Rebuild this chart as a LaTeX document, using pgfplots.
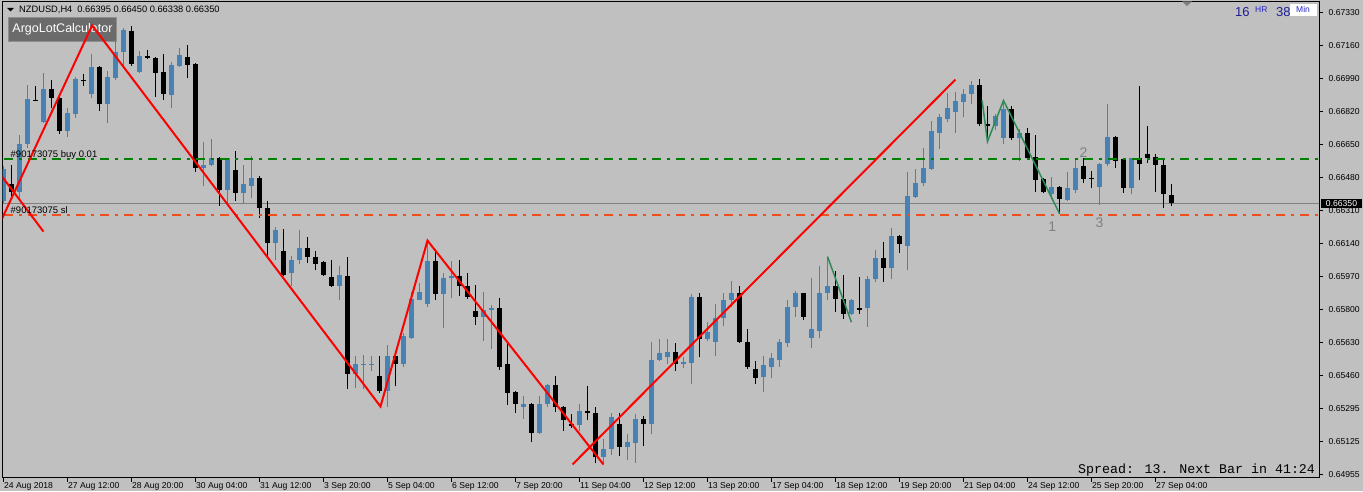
\documentclass[border=0pt]{standalone}
\usepackage{pgfplots}
\pgfplotsset{compat=1.18}
\usepackage{pgfplotstable}
\usepackage{fontspec}
\setmainfont{Liberation Sans}
\newfontfamily\monofont{Liberation Mono}
\pgfdeclarelayer{background}
\pgfsetlayers{background,main}
\definecolor{bg}{HTML}{C0C0C0}
\definecolor{bull}{HTML}{4682B4}
\definecolor{ordgreen}{RGB}{0,128,0}
\definecolor{ordsl}{RGB}{240,80,30}
\definecolor{bidgray}{HTML}{808080}
\definecolor{zzgreen}{HTML}{2E8B57}
\definecolor{btn}{HTML}{6B6B6B}
\definecolor{btnedge}{HTML}{8E8E8E}
\definecolor{navytxt}{HTML}{1E1E96}
\definecolor{bluetxt}{HTML}{2828C8}

\pgfplotstableread{
k o h l c
0 0.66365 0.66540 0.66349 0.66529
2 0.66411 0.66704 0.66365 0.66658
3 0.66658 0.66961 0.66637 0.66889
5 0.66771 0.67023 0.66766 0.66936
8 0.66720 0.66843 0.66694 0.66817
9 0.66812 0.67002 0.66791 0.66992
11 0.66910 0.67120 0.66894 0.67049
13 0.66863 0.67033 0.66761 0.67002
14 0.66997 0.67192 0.66982 0.67131
15 0.67131 0.67254 0.67059 0.67244
17 0.67028 0.67136 0.67023 0.67110
21 0.66905 0.67079 0.66843 0.67064
22 0.67059 0.67151 0.67049 0.67115
25 0.66534 0.66668 0.66442 0.66550
26 0.66545 0.66683 0.66540 0.66581
28 0.66421 0.66586 0.66344 0.66581
30 0.66401 0.66545 0.66349 0.66452
31 0.66442 0.66596 0.66380 0.66483
34 0.66144 0.66231 0.66061 0.66211
36 0.65990 0.66082 0.65928 0.66061
37 0.66061 0.66211 0.66036 0.66123
42 0.65928 0.66026 0.65856 0.65984
44 0.65475 0.65563 0.65403 0.65522
45 0.65517 0.65573 0.65398 0.65522
46 0.65517 0.65568 0.65486 0.65522
48 0.65388 0.65624 0.65301 0.65568
50 0.65527 0.65686 0.65511 0.65666
51 0.65660 0.65897 0.65655 0.65861
52 0.65856 0.65943 0.65851 0.65897
53 0.65835 0.66164 0.65815 0.66056
55 0.65882 0.65990 0.65712 0.65964
56 0.65964 0.66056 0.65866 0.65979
60 0.65768 0.65897 0.65645 0.65804
61 0.65804 0.65830 0.65604 0.65810
65 0.65301 0.65362 0.65244 0.65321
67 0.65172 0.65362 0.65167 0.65321
68 0.65321 0.65424 0.65301 0.65414
72 0.65213 0.65321 0.65182 0.65285
75 0.65044 0.65141 0.65008 0.65090
76 0.65090 0.65270 0.65059 0.65254
78 0.65100 0.65167 0.65033 0.65121
79 0.65116 0.65265 0.65018 0.65244
81 0.65218 0.65635 0.65167 0.65547
82 0.65547 0.65655 0.65542 0.65583
83 0.65558 0.65655 0.65527 0.65588
85 0.65527 0.65558 0.65506 0.65537
86 0.65532 0.65882 0.65424 0.65871
88 0.65655 0.65738 0.65645 0.65691
89 0.65640 0.65835 0.65568 0.65763
90 0.65763 0.65892 0.65722 0.65856
91 0.65856 0.65953 0.65815 0.65892
95 0.65460 0.65563 0.65378 0.65517
96 0.65511 0.65583 0.65455 0.65553
97 0.65547 0.65655 0.65511 0.65635
98 0.65630 0.65851 0.65614 0.65815
99 0.65815 0.65902 0.65768 0.65887
101 0.65660 0.65969 0.65609 0.65702
102 0.65696 0.66026 0.65660 0.65892
103 0.65887 0.66072 0.65856 0.65923
106 0.65784 0.65861 0.65774 0.65856
108 0.65810 0.65979 0.65717 0.65959
109 0.65959 0.66108 0.65948 0.66067
111 0.66020 0.66226 0.65959 0.66185
113 0.66133 0.66509 0.66010 0.66390
114 0.66385 0.66529 0.66380 0.66457
115 0.66457 0.66637 0.66442 0.66534
116 0.66529 0.66776 0.66524 0.66720
117 0.66714 0.66812 0.66632 0.66792
118 0.66786 0.66920 0.66771 0.66843
119 0.66822 0.66925 0.66714 0.66874
120 0.66869 0.66936 0.66792 0.66915
121 0.66915 0.66977 0.66863 0.66961
124 0.66750 0.66812 0.66725 0.66797
125 0.66684 0.66874 0.66658 0.66833
127 0.66684 0.66735 0.66570 0.66714
131 0.66396 0.66488 0.66375 0.66432
133 0.66370 0.66509 0.66365 0.66427
134 0.66421 0.66586 0.66401 0.66534
137 0.66432 0.66560 0.66344 0.66555
138 0.66555 0.66863 0.66540 0.66689
141 0.66427 0.66586 0.66396 0.66581
}\bulltab

\pgfplotstableread{
k o h l c
1 0.66452 0.66550 0.66390 0.66411
4 0.66884 0.66956 0.66874 0.66879
6 0.66936 0.66982 0.66838 0.66894
7 0.66894 0.66896 0.66709 0.66720
10 0.66987 0.67013 0.66956 0.66977
12 0.67049 0.67054 0.66827 0.66863
16 0.67234 0.67264 0.67059 0.67069
18 0.67110 0.67141 0.67090 0.67100
19 0.67100 0.67105 0.66899 0.67023
20 0.67028 0.67120 0.66884 0.66910
23 0.67105 0.67162 0.66997 0.67064
24 0.67069 0.67074 0.66514 0.66534
27 0.66581 0.66591 0.66339 0.66421
29 0.66524 0.66617 0.66365 0.66406
32 0.66483 0.66493 0.66277 0.66324
33 0.66329 0.66365 0.66072 0.66144
35 0.66103 0.66216 0.65979 0.65984
38 0.66123 0.66175 0.66046 0.66072
39 0.66072 0.66103 0.66010 0.66041
40 0.66051 0.66056 0.65979 0.65984
41 0.65974 0.66061 0.65918 0.65928
43 0.65979 0.66072 0.65398 0.65475
47 0.65465 0.65568 0.65373 0.65388
49 0.65568 0.65573 0.65409 0.65527
54 0.66056 0.66113 0.65856 0.65882
57 0.65979 0.66061 0.65876 0.65928
58 0.65928 0.65990 0.65861 0.65871
59 0.65799 0.65933 0.65727 0.65768
62 0.65810 0.65866 0.65496 0.65511
63 0.65522 0.65635 0.65316 0.65373
64 0.65378 0.65388 0.65275 0.65321
66 0.65321 0.65326 0.65121 0.65172
69 0.65419 0.65465 0.65280 0.65301
70 0.65301 0.65306 0.65182 0.65239
71 0.65218 0.65265 0.65193 0.65208
73 0.65285 0.65409 0.65234 0.65270
74 0.65270 0.65301 0.65013 0.65044
77 0.65218 0.65270 0.65049 0.65100
80 0.65244 0.65259 0.65105 0.65218
84 0.65588 0.65630 0.65491 0.65527
87 0.65871 0.65892 0.65558 0.65655
92 0.65892 0.65928 0.65630 0.65640
93 0.65640 0.65702 0.65501 0.65511
94 0.65501 0.65542 0.65424 0.65455
100 0.65887 0.65892 0.65753 0.65768
104 0.65923 0.66000 0.65794 0.65861
105 0.65861 0.65984 0.65758 0.65779
107 0.65810 0.65974 0.65784 0.65804
110 0.66067 0.66154 0.65948 0.66020
112 0.66185 0.66190 0.66097 0.66139
122 0.66961 0.66992 0.66750 0.66756
123 0.66756 0.66853 0.66663 0.66750
126 0.66833 0.66853 0.66678 0.66684
128 0.66714 0.66740 0.66581 0.66586
129 0.66591 0.66704 0.66411 0.66468
130 0.66473 0.66483 0.66401 0.66411
132 0.66432 0.66437 0.66298 0.66375
135 0.66540 0.66586 0.66457 0.66478
136 0.66483 0.66519 0.66427 0.66478
139 0.66689 0.66699 0.66534 0.66570
140 0.66576 0.66581 0.66406 0.66427
142 0.66586 0.66956 0.66468 0.66555
143 0.66606 0.66750 0.66560 0.66586
144 0.66591 0.66606 0.66411 0.66550
145 0.66550 0.66576 0.66329 0.66396
146 0.66395 0.66450 0.66338 0.66350
}\beartab

\pgfplotsset{candle/.style={only marks, mark=*, mark size=0pt, mark options={draw=none, fill=none}, forget plot}}

\begin{document}
\begin{tikzpicture}[x=1pt,y=1pt]
\begin{axis}[
  at={(0,0)}, anchor=south west,
  scale only axis, width=1317pt, height=476pt,
  xmin=-0.125, xmax=164.5, ymin=0.649409, ymax=0.673881,
  axis line style={black, line width=1pt},
  tick style={black, line width=1pt},
  tick align=outside, major tick length=4pt,
  xtick pos=left, ytick pos=right, yticklabel pos=right,
  scaled y ticks=false,
  xtick={0,8,...,144},
  xticklabels={24 Aug 2018, 27 Aug 12:00, 28 Aug 20:00, 30 Aug 04:00, 31 Aug 12:00, 3 Sep 20:00, 5 Sep 04:00, 6 Sep 12:00, 7 Sep 20:00, 11 Sep 04:00, 12 Sep 12:00, 13 Sep 20:00, 17 Sep 04:00, 18 Sep 12:00, 19 Sep 20:00, 21 Sep 04:00, 24 Sep 12:00, 25 Sep 20:00, 27 Sep 04:00},
  ytick={0.673300,0.671604,0.669907,0.668211,0.666514,0.664818,0.663121,0.661425,0.659728,0.658032,0.656335,0.654639,0.652942,0.651246,0.649549},
  yticklabels={0.67330,0.67160,0.66990,0.66820,0.66650,0.66480,0.66310,0.66140,0.65970,0.65800,0.65630,0.65460,0.65295,0.65125,0.64955},
  ticklabel style={font=\fontsize{8.6}{10}\selectfont, text=black},
  xticklabel style={anchor=north west, inner sep=0pt, xshift=0.5pt, yshift=-1pt},
  yticklabel style={anchor=west, inner sep=0pt, xshift=5pt},
  clip=true,
]
\coordinate (SW) at (rel axis cs:0,0);
% bid line
\addplot[color=bidgray, line width=1pt, forget plot] coordinates {(-0.125,0.66350) (164.5,0.66350)};
% bull wicks and bodies
\addplot[candle, error bars/.cd, y dir=plus, y explicit, error mark=none, error bar style={draw=bull, line width=1pt, solid}]
  table[x=k, y=l, y error plus expr=\thisrow{h}-\thisrow{l}] {\bulltab};
\addplot[candle, error bars/.cd, y dir=plus, y explicit, error mark=none, error bar style={draw=bull, line width=5pt, solid}]
  table[x=k, y=o, y error plus expr=\thisrow{c}-\thisrow{o}] {\bulltab};
% bear wicks and bodies
\addplot[candle, error bars/.cd, y dir=plus, y explicit, error mark=none, error bar style={draw=black, line width=1pt, solid}]
  table[x=k, y=l, y error plus expr=\thisrow{h}-\thisrow{l}] {\beartab};
\addplot[candle, error bars/.cd, y dir=plus, y explicit, error mark=none, error bar style={draw=black, line width=5pt, solid}]
  table[x=k, y=c, y error plus expr=\thisrow{o}-\thisrow{c}] {\beartab};
% order lines
\addplot[color=ordgreen, line width=2pt, dash pattern=on 9pt off 6pt on 3pt off 6pt, forget plot] coordinates {(0,0.66576) (164.5,0.66576)};
\addplot[color=ordsl, line width=2pt, dash pattern=on 9pt off 6pt on 3pt off 6pt, forget plot] coordinates {(0,0.66288) (164.5,0.66288)};
% zigzag lines
\addplot[color=red, line width=2pt, forget plot] coordinates {(-0.25,0.66492) (5,0.66205)};
\addplot[color=red, line width=2pt, forget plot] coordinates {(-0.25,0.66266) (11.08,0.67265) (47.125,0.65306) (53,0.66159) (75,0.65008)};
\addplot[color=red, line width=2pt, forget plot] coordinates {(71.125,0.65008) (119,0.66987)};
\addplot[color=zzgreen, line width=1.5pt, forget plot] coordinates {(103,0.66077) (106,0.65739)};
\addplot[color=zzgreen, line width=1.5pt, forget plot] coordinates {(122.33,0.66879) (123,0.66668) (125,0.66879) (132,0.66298)};
% labels
\node[anchor=base west, inner sep=0pt, font=\fontsize{9.5}{10}\selectfont] at (axis cs:0.875,0.66587) {\#90173075 buy 0.01};
\node[anchor=base west, inner sep=0pt, font=\fontsize{9.5}{10}\selectfont] at (axis cs:0.875,0.66300) {\#90173075 sl};
\node[text=gray, font=\fontsize{14}{14}\selectfont, inner sep=0pt] at (axis cs:131.1,0.66231) {1};
\node[text=gray, font=\fontsize{14}{14}\selectfont, inner sep=0pt] at (axis cs:135,0.66612) {2};
\node[text=gray, font=\fontsize{14}{14}\selectfont, inner sep=0pt] at (axis cs:137,0.66252) {3};
\end{axis}
\begin{scope}[shift={(SW)}]
\begin{scope}[shift={(-2.5,-13.5)}]
\begin{pgfonlayer}{background}
\fill[bg] (0,0) rectangle (1363,491);
% button
\fill[btnedge] (8,449) rectangle (117,474);
\fill[btn] (9,450) rectangle (116,473);
\node[text=white, font=\fontsize{12.5}{14}\selectfont, inner sep=0pt] at (62.5,461.5) {ArgoLotCalculator};
\end{pgfonlayer}
% header
\fill[black] (7,483) -- (14,483) -- (10.5,479.5) -- cycle;
\node[anchor=base west, inner sep=0pt, font=\fontsize{9.3}{10}\selectfont] at (19,478.5) {NZDUSD,H4\hspace{5pt}0.66395 0.66450 0.66338 0.66350};
% chart shift marker
\fill[gray] (1182,489.5) -- (1192,489.5) -- (1187,485) -- cycle;
% timer
\node[anchor=base west, inner sep=0pt, text=navytxt, font=\fontsize{13}{13}\selectfont] at (1235,474) {16};
\node[anchor=base west, inner sep=0pt, text=bluetxt, font=\fontsize{8.5}{9}\selectfont] at (1255,478) {HR};
\node[anchor=base west, inner sep=0pt, text=navytxt, font=\fontsize{13}{13}\selectfont] at (1276,474) {38};
\fill[white] (1290,475) rectangle (1317,487);
\node[anchor=base west, inner sep=0pt, text=bluetxt, font=\fontsize{8.5}{9}\selectfont] at (1296,478) {Min};
% current price box
\fill[black] (1321,283) rectangle (1362,292);
\node[text=white, inner sep=0pt, font=\fontsize{8.6}{10}\selectfont] at (1341.5,287.5) {0.66350};
% spread
\node[anchor=base west, inner sep=0pt, font=\monofont\fontsize{13.3}{14}\selectfont] at (1078,17.7) {Spread: 13. Next Bar in 41:24};
\coordinate (BBa) at (0,0);
\coordinate (BBb) at (1363,491);
\end{scope}
\end{scope}
\pgfresetboundingbox
\useasboundingbox (BBa) rectangle (BBb);
\end{tikzpicture}
\end{document}
